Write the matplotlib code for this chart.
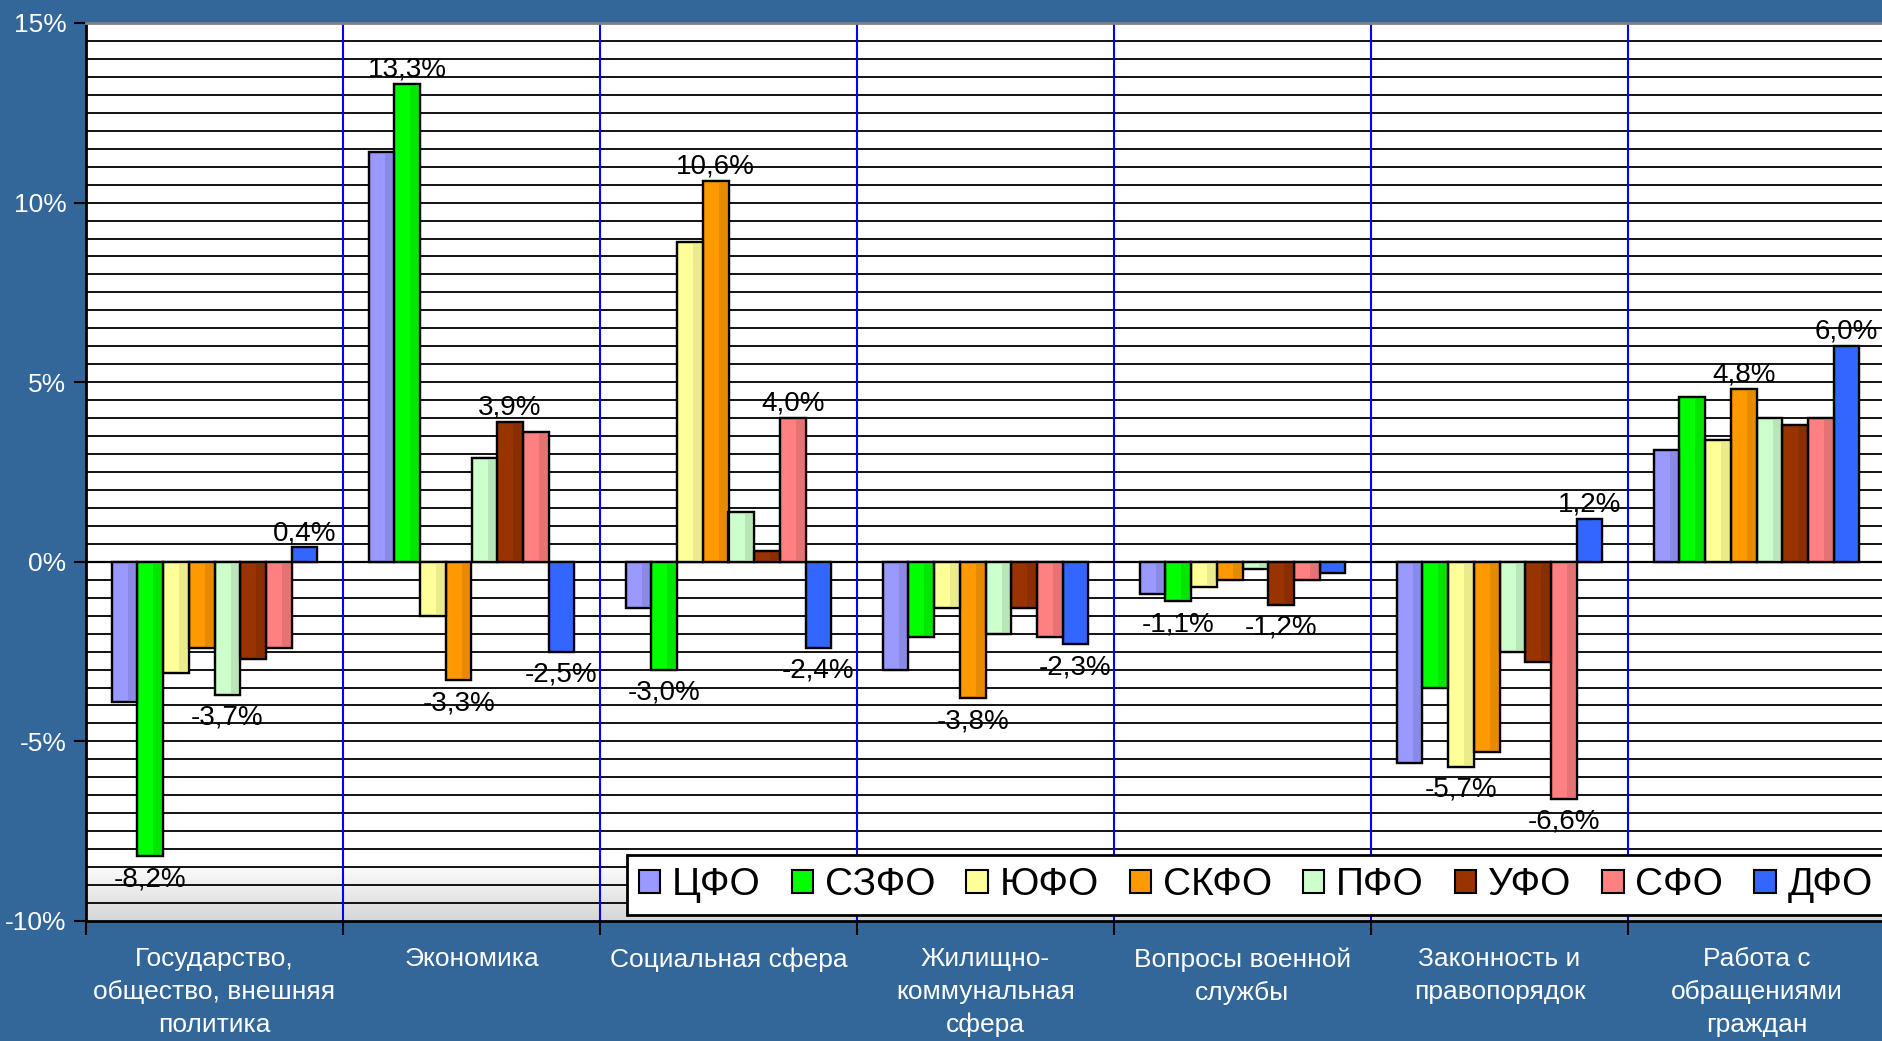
import numpy as np
import matplotlib
matplotlib.use("Agg")
import matplotlib.pyplot as plt
from matplotlib.patches import Patch

categories = ["Государство,\nобщество, внешняя\nполитика", "Экономика", "Социальная сфера",
              "Жилищно-\nкоммунальная\nсфера", "Вопросы военной\nслужбы",
              "Законность и\nправопорядок", "Работа с\nобращениями\nграждан"]
districts = ["ЦФО", "СЗФО", "ЮФО", "СКФО", "ПФО", "УФО", "СФО", "ДФО"]
colors = ["#9999FF", "#00FF00", "#FFFF99", "#FF9900", "#CCFFCC", "#993300", "#FF8080", "#3366FF"]
shades = ["#8A8AE6", "#00E600", "#EBEB8C", "#E68A00", "#B8E6B8", "#8A2E00", "#E67373", "#3366FF"]

cfo = [-3.9, 11.4, -1.3, -3.0, -0.9, -5.6, 3.1]
szfo = [-8.2, 13.3, -3.0, -2.1, -1.1, -3.5, 4.6]
yufo = [-3.1, -1.5, 8.9, -1.3, -0.7, -5.7, 3.4]
skfo = [-2.4, -3.3, 10.6, -3.8, -0.5, -5.3, 4.8]
pfo = [-3.7, 2.9, 1.4, -2.0, -0.2, -2.5, 4.0]
ufo = [-2.7, 3.9, 0.3, -1.3, -1.2, -2.8, 3.8]
sfo = [-2.4, 3.6, 4.0, -2.1, -0.5, -6.6, 4.0]
dfo = [0.4, -2.5, -2.4, -2.3, -0.3, 1.2, 6.0]
series = [cfo, szfo, yufo, skfo, pfo, ufo, sfo, dfo]

# which bars carry a value label: (series index, category index)
labelled = [(1, 0), (4, 0), (7, 0),
            (1, 1), (5, 1), (3, 1), (7, 1),
            (3, 2), (6, 2), (1, 2), (7, 2),
            (3, 3), (7, 3),
            (1, 4), (5, 4),
            (2, 5), (6, 5), (7, 5),
            (3, 6), (7, 6)]

bg = "#336699"
fig = plt.figure(figsize=(18.82, 10.41), dpi=100, facecolor=bg)
ax = fig.add_axes([86 / 1882, 1 - 921 / 1041, 1799 / 1882, (921 - 23) / 1041])
ax.set_facecolor("white")

# wall gradient near the bottom
t = np.linspace(0, 1, 300)
grad = np.where(t < 0.065, 0.84 + (t / 0.065) * 0.16, 1.0).reshape(-1, 1)
ax.imshow(grad, extent=(-0.5, 6.5, -10, 15), origin="lower", aspect="auto",
          cmap="gray", vmin=0, vmax=1, zorder=0)

ax.set_xlim(-0.5, 6.5)
ax.set_ylim(-10, 15)

for y in np.arange(-9.5, 15, 0.5):
    ax.axhline(y, color="black", lw=1.3, zorder=1)
for xb in np.arange(0.5, 6.5, 1):
    ax.axvline(xb, color="#0000FF", lw=1.5, zorder=1)

x = np.arange(len(categories))
w = 0.1
for i, vals in enumerate(series):
    pos = x + (i - 3.5) * w
    ax.bar(pos, vals, width=w, color=colors[i], edgecolor="black", linewidth=1.6, zorder=3)
    ax.bar(pos + w * 0.3, vals, width=w * 0.35, color=shades[i], linewidth=0, zorder=3.5)
    ax.bar(pos, vals, width=w, fill=False, edgecolor="black", linewidth=1.6, zorder=4)

for si, ci in labelled:
    v = series[si][ci]
    px = x[ci] + (si - 3.5) * w
    txt = ("%.1f%%" % v).replace(".", ",")
    if v >= 0:
        ax.annotate(txt, (px, v), xytext=(0, 1), textcoords="offset points",
                    ha="center", va="bottom", fontsize=20, family="Liberation Sans", zorder=5)
    else:
        ax.annotate(txt, (px, v), xytext=(0, -7), textcoords="offset points",
                    ha="center", va="top", fontsize=20, family="Liberation Sans", zorder=5)

ax.axhline(0, color="black", lw=1.6, zorder=2)

ax.set_yticks([-10, -5, 0, 5, 10, 15])
ax.set_yticklabels(["-10%", "-5%", "0%", "5%", "10%", "15%"])
ax.tick_params(axis="y", colors="black", labelcolor="white", labelsize=19, length=9,
               width=1.5, pad=5)
for lab in ax.get_yticklabels():
    lab.set_family("Liberation Sans")

ax.set_xticks(np.arange(-0.5, 7, 1))
ax.set_xticklabels([])
ax.tick_params(axis="x", which="major", length=10, width=1.5, color="black")
ax.set_xticks(x, minor=True)
ax.set_xticklabels(categories, minor=True)
ax.tick_params(axis="x", which="minor", length=0, labelcolor="white", labelsize=19, pad=19)
for lab in ax.get_xticklabels(minor=True):
    lab.set_family("Liberation Sans")
    lab.set_linespacing(1.45)
    lab.set_va("top")

for s in ["left", "bottom"]:
    ax.spines[s].set_color("black")
    ax.spines[s].set_linewidth(2)
ax.spines["top"].set_color("#808080")
ax.spines["top"].set_linewidth(2)
ax.spines["right"].set_visible(False)

handles = [Patch(facecolor=c, edgecolor="black", linewidth=1.5) for c in colors]
leg = fig.legend(handles, districts, loc="center left", bbox_to_anchor=(627 / 1882, 1 - 885 / 1041),
                 ncol=8, frameon=True, fancybox=False, handlelength=0.55, handleheight=0.55,
                 handletextpad=0.3, columnspacing=0.8, borderpad=0.3, borderaxespad=0,
                 prop={"family": "Liberation Sans", "size": 28})
leg.get_frame().set_edgecolor("black")
leg.get_frame().set_linewidth(2)
leg.get_frame().set_facecolor("white")
leg.get_frame().set_alpha(1)

fig.savefig("out.png", dpi=100, facecolor=bg)
